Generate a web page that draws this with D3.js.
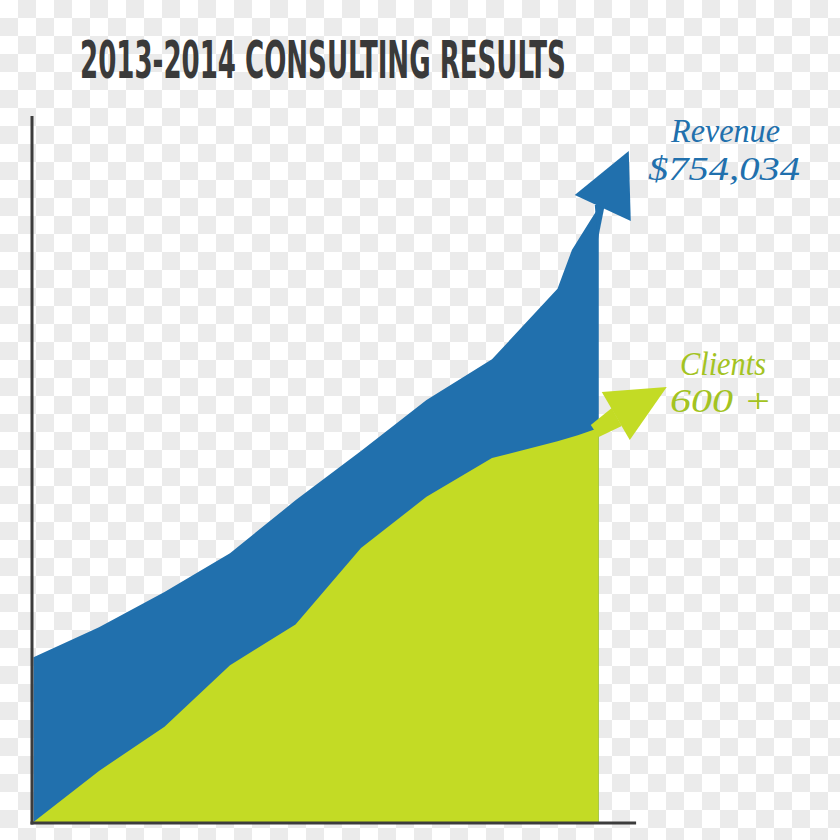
<!DOCTYPE html>
<html>
<head>
<meta charset="utf-8">
<script src="https://cdn.jsdelivr.net/npm/d3@7"></script>
<style>
  html, body { margin: 0; padding: 0; background: #fff; }
  svg { display: block; }
</style>
</head>
<body>
<svg id="chart" width="840" height="840"></svg>
<script>
// ---- data ----
const title = "2013-2014 CONSULTING RESULTS";
const periods = [0, 1, 2, 3, 4, 5, 6, 7, 8, 8.22, 8.31, 8.63];
const revenue = [187, 221, 261, 305, 365, 421, 479, 525, 605, 649, 660, 698];
const clients = [0, 58, 108, 178, 224, 311, 369, 413, 432, 437, 439, 447];
const revenueLabel = ["Revenue", "$754,034"];
const clientsLabel = ["Clients", "600 +"];

const W = 840, H = 840;
const svg = d3.select("#chart");

// checkerboard (transparent background look)
const bg = svg.append("g");
const cell = 18;
const cols = d3.range(Math.ceil(W / cell));
const rowsIdx = d3.range(Math.ceil(H / cell));
bg.append("rect").attr("width", W).attr("height", H).attr("fill", "#ffffff");
bg.selectAll("rect.ck")
  .data(rowsIdx.flatMap(r => cols.filter(c => (r + c) % 2 === 1).map(c => [c, r])))
  .join("rect").attr("class", "ck")
  .attr("x", d => d[0] * cell).attr("y", d => d[1] * cell)
  .attr("width", cell).attr("height", cell).attr("fill", "#ebebeb");

const x = d3.scaleLinear().domain([0, 9]).range([33.5, 623]);
const y = d3.scaleLinear().domain([0, 800]).range([822, 117]);

const blue = "#2170ad", green = "#c3db25";

const rows = periods.map((p, i) => ({ p, r: revenue[i], c: clients[i] }));

// revenue area
svg.append("path")
  .datum(rows)
  .attr("fill", blue)
  .attr("d", d3.area().x(d => x(d.p)).y0(y(0)).y1(d => y(d.r)).curve(d3.curveLinear));

// revenue arrow
const rEnd = rows[rows.length - 1];
const rx = x(rEnd.p), ry = y(rEnd.r);
svg.append("path").attr("fill", blue)
  .attr("d", `M${rx - 1},${ry + 33} L${rx + 6},${ry - 2} L${rx - 4},${ry - 2} Z`);
svg.append("path").attr("fill", blue)
  .attr("d", `M${rx - 24},${ry - 12} L${rx + 30},${ry - 56} L${rx + 32},${ry + 14} Z`);

// clients area
svg.append("path")
  .datum(rows)
  .attr("fill", green)
  .attr("d", d3.area().x(d => x(d.p)).y0(y(0)).y1(d => y(d.c)).curve(d3.curveLinear));

// clients arrow
const cEnd = rows[rows.length - 1];
const cx = x(cEnd.p), cy = y(cEnd.c);
svg.append("path").attr("fill", green)
  .attr("d", `M${cx - 8},${cy - 3} L${cx + 13},${cy - 20} L${cx + 23},${cy - 2} L${cx},${cy + 9} Z`);
svg.append("path").attr("fill", green)
  .attr("d", `M${cx + 3},${cy - 36} L${cx + 68},${cy - 41} L${cx + 31},${cy + 12} Z`);

// axes
const axisColor = "#3c3c3c";
svg.append("line")
  .attr("x1", x(0) - 1.5).attr("x2", x(0) - 1.5)
  .attr("y1", y(800) - 1).attr("y2", y(0) + 2.5)
  .attr("stroke", axisColor).attr("stroke-width", 3);
svg.append("line")
  .attr("x1", x(0) - 3).attr("x2", x(9.2))
  .attr("y1", y(0) + 1).attr("y2", y(0) + 1)
  .attr("stroke", axisColor).attr("stroke-width", 3);

// title (horizontally condensed to the reference width)
const tg = svg.append("g");
const t = tg.append("text")
  .attr("x", 0).attr("y", 0)
  .attr("font-family", "'Liberation Sans Narrow', 'DejaVu Sans Condensed', sans-serif")
  .attr("font-weight", "bold").attr("font-size", 51)
  .attr("fill", "#3a3a3a")
  .text(title);
const tw = t.node().getComputedTextLength();
tg.attr("transform", `translate(80,77.5) scale(${486 / tw},1)`);

// labels
const labelFont = "'Liberation Serif', 'DejaVu Serif', serif";
function label(txt, xx, yy, len, col, fs) {
  const g = svg.append("g");
  const el = g.append("text")
    .attr("x", 0).attr("y", 0)
    .attr("font-family", labelFont).attr("font-style", "italic")
    .attr("font-size", fs).attr("fill", col)
    .text(txt);
  const w = el.node().getComputedTextLength();
  g.attr("transform", `translate(${xx},${yy}) scale(${len / w},1)`);
}
label(revenueLabel[0], 671, 142, 109, blue, 34);
label(revenueLabel[1], 648, 180, 152, blue, 34);
label(clientsLabel[0], 680, 375, 86, "#a3c322", 33);
label(clientsLabel[1], 670, 412, 102, "#a3c322", 33);
</script>
</body>
</html>
